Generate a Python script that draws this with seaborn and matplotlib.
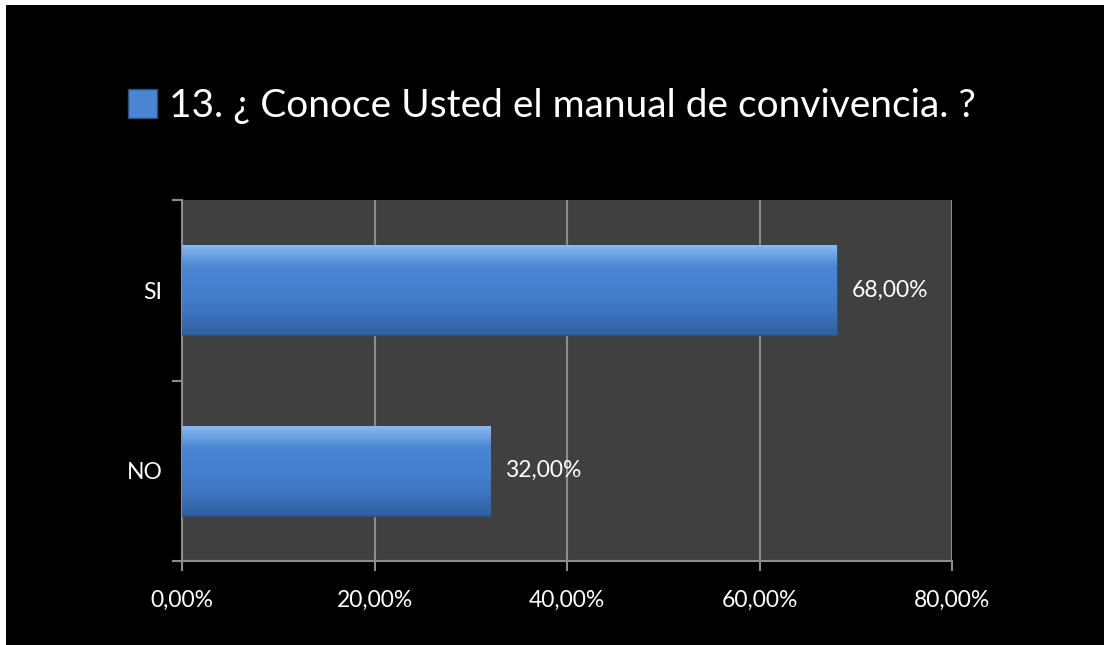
import matplotlib
matplotlib.use("Agg")
import matplotlib.pyplot as plt
import matplotlib.patches as mpatches
import matplotlib.colors as mcolors
import numpy as np
import pandas as pd
import seaborn as sns

categories = ["SI", "NO"]
values = [0.68, 0.32]
value_labels = ["68,00%", "32,00%"]
xtick_values = [0.0, 0.2, 0.4, 0.6, 0.8]
xtick_labels = ["0,00%", "20,00%", "40,00%", "60,00%", "80,00%"]
title = "13. ¿ Conoce Usted el manual de convivencia. ?"

sns.set_theme(style="dark")
plt.rcParams["font.family"] = ["Lato", "DejaVu Sans"]

W, H = 1104, 645
fig = plt.figure(figsize=(W / 100, H / 100), dpi=100, facecolor="black")
# white margin strips at top and left
fig.patches.append(mpatches.Rectangle((0, 1 - 5 / H), 1, 5 / H, transform=fig.transFigure,
                                      facecolor="white", edgecolor="none", zorder=-10))
fig.patches.append(mpatches.Rectangle((0, 0), 6 / W, 1, transform=fig.transFigure,
                                      facecolor="white", edgecolor="none", zorder=-10))

ax = fig.add_axes([182 / W, 1 - 561 / H, (952 - 182) / W, (561 - 200) / H])
ax.set_facecolor("#404040")

df = pd.DataFrame({"cat": categories, "val": values})
sns.barplot(data=df, x="val", y="cat", orient="h", ax=ax, width=0.5,
            color="#3f78c4", edgecolor="#2a4f80", linewidth=1.0, zorder=3, saturation=1)

# gradient overlay on each bar
cmap = mcolors.LinearSegmentedColormap.from_list(
    "bar", ["#8cbcf0", "#4a86d3", "#4480cf", "#3d75c0", "#2f5f9e"])
grad = np.linspace(0, 1, 256).reshape(-1, 1)
for p in ax.patches:
    x0, y0 = p.get_x(), p.get_y()
    w, h = p.get_width(), p.get_height()
    im = ax.imshow(grad, cmap=cmap, aspect="auto", extent=(x0, x0 + w, y0 + h, y0),
                   zorder=3.5, interpolation="bicubic")
    im.set_clip_path(p)

ax.set_xlim(0, 0.8)
ax.set_ylim(1.5, -0.5)
ax.set_xticks(xtick_values)
ax.set_xticklabels(xtick_labels, color="white", fontsize=16.5)
ax.set_yticks(range(len(categories)))
ax.set_yticklabels(categories, color="white", fontsize=16.5)
ax.set_yticks([-0.5, 0.5, 1.5], minor=True)
ax.tick_params(axis="y", which="major", length=0, pad=14)
ax.tick_params(axis="y", which="minor", length=7, width=1.5, color="#8c8c8c", left=True)
ax.tick_params(axis="x", which="major", length=7, width=1.5, color="#8c8c8c",
               bottom=True, pad=14)
ax.grid(axis="x", color="#8c8c8c", linewidth=1.5, zorder=1)
ax.grid(axis="y", visible=False)
ax.set_axisbelow(True)
ax.set_xlabel("")
ax.set_ylabel("")
for s in ["top", "right"]:
    ax.spines[s].set_visible(False)
for s in ["left", "bottom"]:
    ax.spines[s].set_visible(True)
    ax.spines[s].set_color("#8c8c8c")
    ax.spines[s].set_linewidth(1.5)

for i, (v, lab) in enumerate(zip(values, value_labels)):
    ax.annotate(lab, xy=(v, i), xytext=(15, 0), textcoords="offset pixels",
                ha="left", va="center", color="white", fontsize=16.5, zorder=5)

handle = mpatches.Patch(facecolor="#4a86d3", edgecolor="#2a4f80", linewidth=1)
leg = fig.legend([handle], [title], loc="center", bbox_to_anchor=(0.5, 1 - 106 / H),
                 frameon=False, fontsize=28, handlelength=0.75, handleheight=0.75,
                 handletextpad=0.3, labelcolor="white")

fig.savefig("out.png", dpi=100, facecolor=fig.get_facecolor())
